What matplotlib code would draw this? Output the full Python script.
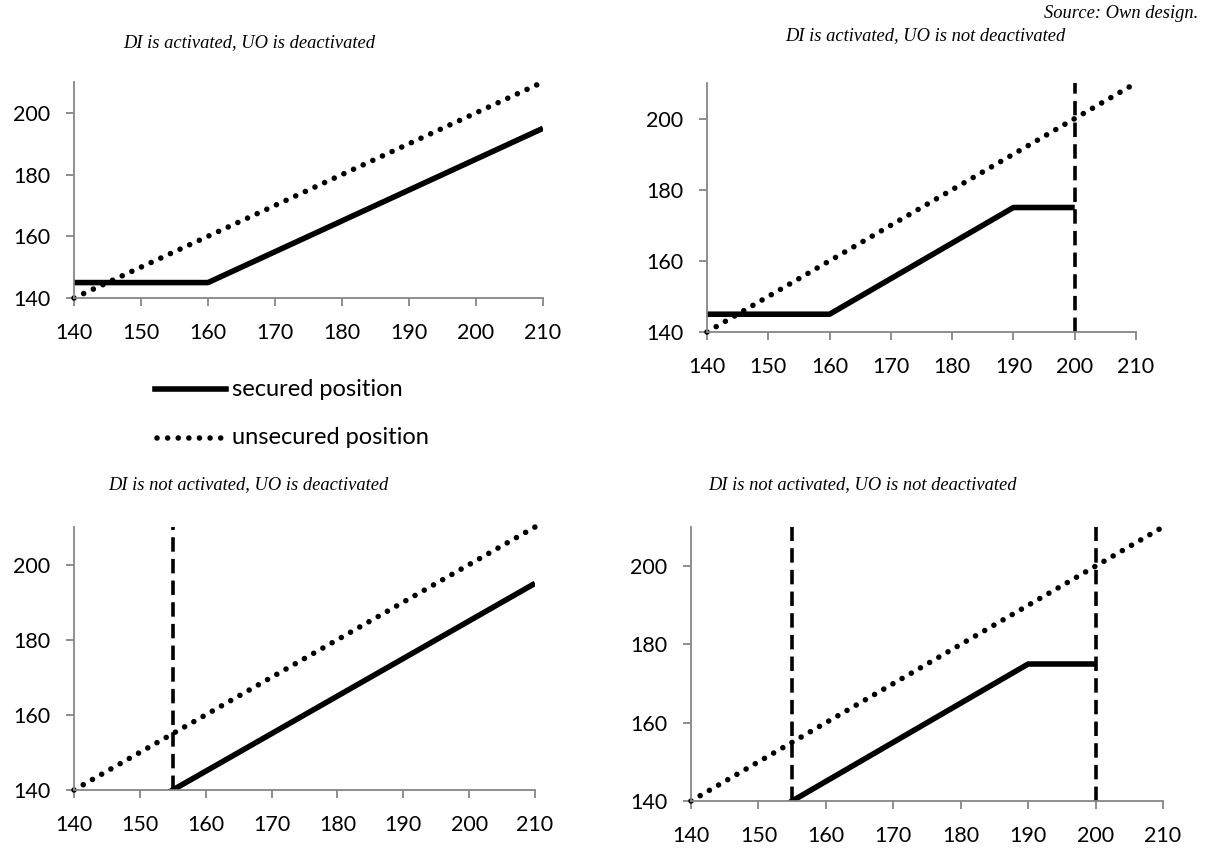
import numpy as np
import matplotlib.pyplot as plt

# data
x_unsec = [140, 210]
y_unsec = [140, 210]

x_sec_a = [140, 160, 210]          # DI activated, UO deactivated
y_sec_a = [145, 145, 195]
x_sec_b = [140, 160, 190, 200]     # DI activated, UO not deactivated
y_sec_b = [145, 145, 175, 175]
x_sec_c = [154, 210]               # DI not activated, UO deactivated
y_sec_c = [139, 195]
x_sec_d = [154, 190, 200]          # DI not activated, UO not deactivated
y_sec_d = [139, 175, 175]

barrier_b = [200]
barrier_c = [155]
barrier_d = [155, 200]

titles = ["DI is activated, UO is deactivated",
          "DI is activated, UO is not deactivated",
          "DI is not activated, UO is deactivated",
          "DI is not activated, UO is not deactivated"]
xticks = [140, 150, 160, 170, 180, 190, 200, 210]
yticks = [140, 160, 180, 200]

W, H = 1205, 848
fig = plt.figure(figsize=(W / 100, H / 100), dpi=100)


def box(l, r, t, b):
    return [l / W, 1 - b / H, (r - l) / W, (b - t) / H]


grey = "#868686"
tick_font = "Lato"
dots = (0, (0.01, 1.9))


def panel(rect, xs, ys, bars, title, title_xy):
    ax = fig.add_axes(rect)
    ax.plot(x_unsec, y_unsec, color="black", lw=4,
            linestyle=dots, dash_capstyle="round", clip_on=False)
    ax.plot(xs, ys, color="black", lw=4, solid_capstyle="butt")
    for b in bars:
        ax.axvline(b, color="black", lw=2.6, linestyle=(0, (4, 2)))
    ax.set_xlim(140, 210)
    ax.set_ylim(140, 210)
    ax.set_xticks(xticks)
    ax.set_yticks(yticks)
    for s in ["top", "right"]:
        ax.spines[s].set_visible(False)
    for s in ["left", "bottom"]:
        ax.spines[s].set_color(grey)
        ax.spines[s].set_linewidth(1.3)
    ax.tick_params(colors=grey, labelcolor="black", length=6, width=1.3,
                   labelsize=15.5)
    ax.tick_params(axis="y", pad=11)
    ax.tick_params(axis="x", pad=12)
    for lab in ax.get_xticklabels() + ax.get_yticklabels():
        lab.set_family(tick_font)
    fig.text(title_xy[0] / W, 1 - title_xy[1] / H, title, ha="center",
             va="center", family="Liberation Serif", style="italic",
             fontsize=13.3)
    return ax


ax1 = panel(box(74, 543, 82, 298), x_sec_a, y_sec_a, [], titles[0], (249, 43))
ax2 = panel(box(707, 1136, 83, 332), x_sec_b, y_sec_b, barrier_b, titles[1], (925, 36))
ax3 = panel(box(74, 535, 527, 790), x_sec_c, y_sec_c, barrier_c, titles[2], (248, 485))
ax4 = panel(box(691, 1163, 527, 801), x_sec_d, y_sec_d, barrier_d, titles[3], (862, 485))

# legend drawn in figure coordinates
fig.lines.append(plt.Line2D([155 / W, 226 / W], [1 - 389 / H] * 2, color="black",
                            lw=4, transform=fig.transFigure))
fig.lines.append(plt.Line2D([157 / W, 226 / W], [1 - 438 / H] * 2, color="black",
                            lw=4, linestyle=dots, dash_capstyle="round",
                            transform=fig.transFigure))
fig.text(232 / W, 1 - 389 / H, "secured position", va="center", family=tick_font,
         fontsize=17)
fig.text(232 / W, 1 - 438 / H, "unsecured position", va="center", family=tick_font,
         fontsize=17)

fig.text(1198 / W, 1 - 14 / H, "Source: Own design.", ha="right", va="center",
         family="Liberation Serif", style="italic", fontsize=13.3)

plt.savefig("out.png", dpi=100)
